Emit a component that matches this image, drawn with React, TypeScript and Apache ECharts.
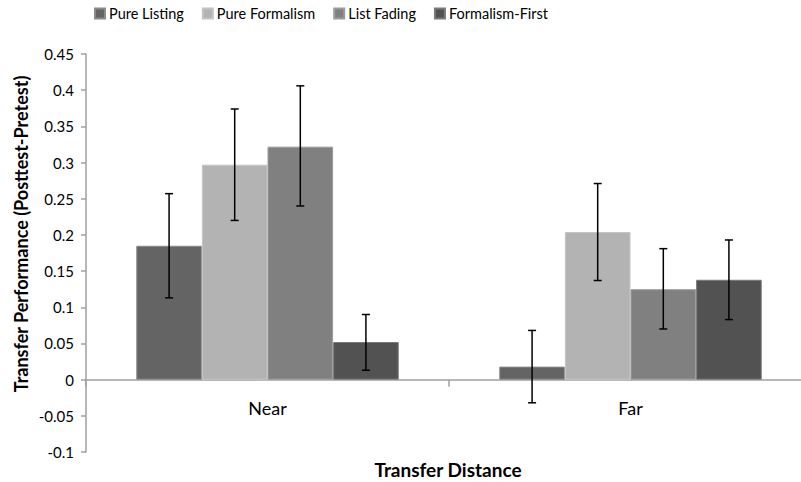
import React, { useEffect, useRef } from "react";
import * as echarts from "echarts";

const categories = ["Near", "Far"];
const seriesNames = ["Pure Listing", "Pure Formalism", "List Fading", "Formalism-First"];
const pureListing = [0.185, 0.018];
const pureFormalism = [0.297, 0.204];
const listFading = [0.322, 0.125];
const formalismFirst = [0.052, 0.138];
const pureListingErr = [[0.113, 0.257], [-0.032, 0.068]];
const pureFormalismErr = [[0.22, 0.374], [0.137, 0.271]];
const listFadingErr = [[0.24, 0.406], [0.07, 0.181]];
const formalismFirstErr = [[0.013, 0.09], [0.083, 0.193]];
const yTicks = { min: -0.1, max: 0.45, interval: 0.05 };

const colors = ["#646464", "#b3b3b3", "#808080", "#525252"];
const borders = ["#8a8a8a", "#c4c4c4", "#9c9c9c", "#7a7a7a"];
const GAP = 0.277;
const FONT = "Lato";

export default function App() {
  const ref = useRef<HTMLDivElement>(null);
  useEffect(() => {
    if (!ref.current) return;
    document.body.style.margin = "0";
    const chart = echarts.init(ref.current, undefined, { renderer: "svg" });
    const values = [pureListing, pureFormalism, listFading, formalismFirst];
    const errs = [pureListingErr, pureFormalismErr, listFadingErr, formalismFirstErr];
    const bars = values.map((v, i) => ({
      name: seriesNames[i],
      type: "bar",
      data: v,
      barGap: "0%",
      barCategoryGap: GAP * 100 + "%",
      itemStyle: { color: colors[i], borderColor: borders[i], borderWidth: 1 },
      emphasis: { disabled: true },
    }));
    const errSeries = errs.map((e, i) => ({
      name: seriesNames[i] + " error",
      type: "custom",
      data: e.map((d, k) => [k, d[0], d[1]]),
      encode: { x: 0, y: [1, 2] },
      z: 10,
      renderItem: (params: any, api: any) => {
        const xi = api.value(0);
        const lo = api.value(1);
        const hi = api.value(2);
        const band = api.size([1, 0])[0];
        const groupW = band * (1 - GAP);
        const barW = groupW / 4;
        const off = -groupW / 2 + barW * (i + 0.5);
        const pHi = api.coord([xi, hi]);
        const pLo = api.coord([xi, lo]);
        const x = pHi[0] + off;
        const cap = 4;
        const style = { stroke: "#000", lineWidth: 1.5 };
        return {
          type: "group",
          children: [
            { type: "line", shape: { x1: x, y1: pHi[1], x2: x, y2: pLo[1] }, style },
            { type: "line", shape: { x1: x - cap, y1: pHi[1], x2: x + cap, y2: pHi[1] }, style },
            { type: "line", shape: { x1: x - cap, y1: pLo[1], x2: x + cap, y2: pLo[1] }, style },
          ],
        };
      },
    }));
    chart.setOption({
      animation: false,
      textStyle: { fontFamily: FONT },
      legend: {
        data: seriesNames,
        top: 6,
        left: 94,
        padding: 0,
        icon: "rect",
        itemWidth: 10,
        itemHeight: 10,
        itemGap: 18,
        textStyle: { fontSize: 14.5, color: "#000", fontFamily: FONT, padding: [0, 0, 0, -1] },
      },
      grid: { left: 86, top: 54, width: 726, height: 398 },
      xAxis: {
        type: "category",
        data: categories,
        axisLine: { onZero: true, lineStyle: { color: "#a0a0a0", width: 1.5 } },
        axisTick: { show: true, length: 7, lineStyle: { color: "#a0a0a0", width: 1.5 } },
        axisLabel: { show: false },
      },
      yAxis: {
        type: "value",
        min: yTicks.min,
        max: yTicks.max,
        interval: yTicks.interval,
        splitLine: { show: false },
        axisLine: { show: true, lineStyle: { color: "#a0a0a0", width: 1.5 } },
        axisTick: { show: true, length: 5, lineStyle: { color: "#a0a0a0", width: 1.5 } },
        axisLabel: {
          fontSize: 15,
          color: "#000",
          margin: 12,
          fontFamily: FONT,
          formatter: (v: number) => String(Number(v.toFixed(2))),
        },
      },
      series: [...bars, ...errSeries],
    });
    const zeroY = chart.convertToPixel({ yAxisIndex: 0 }, 0) as number;
    const catLabels = categories.map((c) => ({
      type: "text",
      x: chart.convertToPixel({ xAxisIndex: 0 }, c) as number,
      y: zeroY + 28,
      style: {
        text: c,
        fontSize: 18,
        fontFamily: FONT,
        fill: "#000",
        align: "center",
        verticalAlign: "middle",
      },
    }));
    chart.setOption({
      graphic: [
        ...catLabels,
        {
          type: "text",
          x: 21,
          y: 234,
          rotation: Math.PI / 2,
          style: {
            text: "Transfer Performance (Posttest-Pretest)",
            fontSize: 18,
            fontWeight: "bold",
            fontFamily: FONT,
            fill: "#000",
            align: "center",
            verticalAlign: "middle",
          },
        },
        {
          type: "text",
          x: 448,
          y: 469,
          style: {
            text: "Transfer Distance",
            fontSize: 19,
            fontWeight: "bold",
            fontFamily: FONT,
            fill: "#000",
            align: "center",
            verticalAlign: "middle",
          },
        },
      ],
    });
    return () => chart.dispose();
  }, []);
  return (
    <div style={{ width: 801, height: 482, overflow: "hidden", position: "relative" }}>
      <div ref={ref} style={{ width: 812, height: 482 }} />
    </div>
  );
}
